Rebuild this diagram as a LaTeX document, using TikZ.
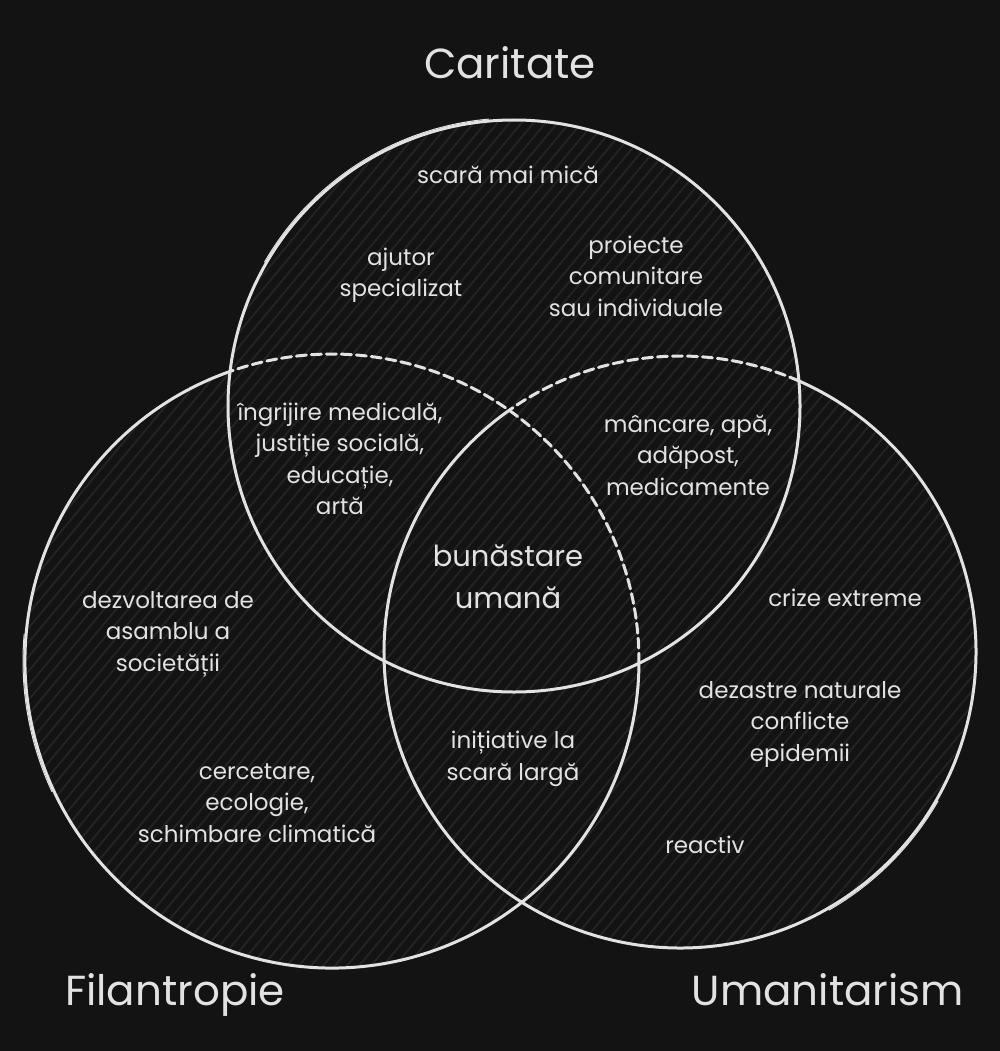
\documentclass[tikz,border=0pt]{standalone}
\usepackage{fontspec}
\setmainfont{Poppins}
\usetikzlibrary{calc}
\definecolor{bg}{HTML}{131313}
\definecolor{ink}{HTML}{E2E2E2}
\definecolor{hatchc}{HTML}{242424}
\begin{document}
\begin{tikzpicture}[x=1pt,y=1pt,
  rim/.style={draw=ink,line width=3pt,line cap=round},
  rimdash/.style={rim,dash pattern=on 10pt off 5pt},
  rimthin/.style={draw=ink,line width=1pt,line cap=round},
  hatchline/.style={draw=hatchc,line width=1.8pt},
  lbl/.style={text=ink,font=\fontsize{23}{31.5}\selectfont,align=center,inner sep=0pt},
  biglbl/.style={text=ink,font=\fontsize{29}{42}\selectfont,align=center,inner sep=0pt},
  ttl/.style={text=ink,font=\fontsize{42}{46}\selectfont,inner sep=0pt}]
\fill[bg] (0,0) rectangle (1000,-1051);
\useasboundingbox (0,0) rectangle (1000,-1051);
\coordinate (T) at (514,-406);
\coordinate (L) at (332,-661);
\coordinate (R) at (680,-652);
% diagonal hatching inside the union of the three sets
\begin{scope}
  \clip (T) circle[radius=286pt] (L) circle[radius=307pt] (R) circle[radius=296pt];
  \foreach \i in {-75,...,85} \draw[hatchline] (\i*12,-1051) -- ++(876,1051);
\end{scope}
% outlines
\draw[rim] (T) circle[radius=286pt];
\draw[rim] (L) ++(109.4:307pt) arc[start angle=109.4,end angle=359.6,radius=307pt];
\draw[rimdash] (L) ++(-0.4:307pt) arc[start angle=-0.4,end angle=109.4,radius=307pt];
\draw[rim] (R) ++(125.3:296pt) arc[start angle=125.3,end angle=426.3,radius=296pt];
\draw[rimdash] (R) ++(66.3:296pt) arc[start angle=66.3,end angle=125.3,radius=296pt];
% second pencil strokes
\draw[rimthin] (T) ++(150:288pt) arc[start angle=150,end angle=95,radius=288pt];
\draw[rimthin] (L) ++(175:309pt) arc[start angle=175,end angle=205,radius=309pt];
\draw[rimthin] (R) ++(300:298pt) arc[start angle=300,end angle=330,radius=298pt];
% set titles
\node[ttl] (caritate) at (510,-63) {Caritate};
\node[ttl] (filantropie) at (175,-995) {Filantropie};
\node[ttl] (umanitarism) at (828,-990) {Umanitarism};
% region texts
\node[lbl] (scara) at (508,-175) {scară mai mică};
\node[lbl] (ajutor) at (401,-275) {ajutor\\specializat};
\node[lbl] (proiecte) at (636,-276) {proiecte\\comunitare\\sau individuale};
\node[lbl] (ingrijire) at (340,-459) {îngrijire medicală,\\justiție socială,\\educație,\\artă};
\node[lbl] (mancare) at (688,-455) {mâncare, apă,\\adăpost,\\medicamente};
\node[biglbl] (bunastare) at (508,-577) {bunăstare\\umană};
\node[lbl] (dezvoltarea) at (168,-634) {dezvoltarea de\\asamblu a\\societății};
\node[lbl] (crize) at (845,-598) {crize extreme};
\node[lbl] (dezastre) at (800,-724) {dezastre naturale\\conflicte\\epidemii};
\node[lbl] (reactiv) at (705,-845) {reactiv};
\node[lbl] (initiative) at (513,-759) {inițiative la\\scară largă};
\node[lbl] (cercetare) at (257,-803) {cercetare,\\ecologie,\\schimbare climatică};
\end{tikzpicture}
\end{document}
